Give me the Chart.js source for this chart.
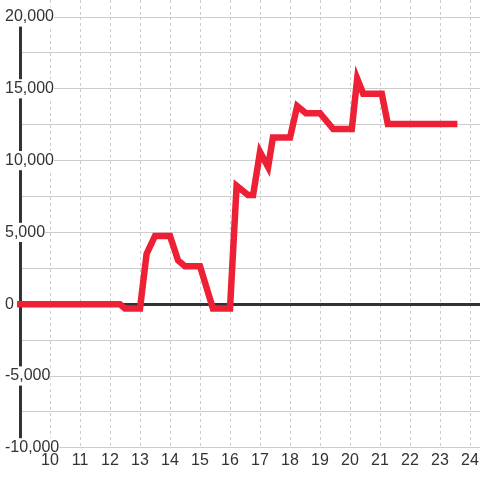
<!DOCTYPE html>
<html>
<head>
<meta charset="utf-8">
<script src="https://cdn.jsdelivr.net/npm/chart.js@4"></script>
<style>
  html, body { margin: 0; padding: 0; background: #fff; }
  #chart { display: block; }
</style>
</head>
<body>
<canvas id="chart" width="480" height="480"></canvas>
<script>
// hour of day vs value
const hours  = [8.9, 12.33, 12.5, 13.0, 13.22, 13.5, 14.0, 14.27, 14.5, 15.0, 15.43, 16.0, 16.22, 16.6, 16.77,
                17.0, 17.27, 17.43, 18.0, 18.24, 18.53, 19.0, 19.44, 20.06, 20.24, 20.44, 21.06, 21.26, 23.58];
const values = [0, 0, -300, -300, 3500, 4750, 4750, 3050, 2650, 2650, -300, -300, 8250, 7600, 7600,
                10600, 9550, 11600, 11600, 13800, 13300, 13300, 12200, 12200, 15700, 14650, 14650, 12550, 12550];

const xTicks = [10, 11, 12, 13, 14, 15, 16, 17, 18, 19, 20, 21, 22, 23, 24];
const yTicks = [-10000, -7500, -5000, -2500, 0, 2500, 5000, 7500, 10000, 12500, 15000, 17500, 20000];
const yLabelStep = 5000;

const X_MIN = 9;
const X_MAX = 24.333;

Chart.defaults.font.family = "'Liberation Sans', Arial, sans-serif";
Chart.defaults.font.size = 16;
Chart.defaults.color = '#333';

const setXTicks = (scale) => { scale.ticks = xTicks.map(v => ({ value: v })); };
const noSidePad = (scale) => { scale.paddingLeft = 0; scale.paddingRight = 0; };

new Chart(document.getElementById('chart').getContext('2d'), {
  type: 'line',
  data: {
    datasets: [{
      data: hours.map((h, i) => ({ x: h, y: values[i] })),
      borderColor: '#ed2035',
      borderWidth: 6.5,
      borderJoinStyle: 'miter',
      pointRadius: 0,
      tension: 0,
      clip: 4,
    }],
  },
  options: {
    responsive: false,
    animation: false,
    layout: { padding: { left: 5, right: 0, top: 0, bottom: 7 } },
    plugins: { legend: { display: false }, tooltip: { enabled: false } },
    scales: {
      x: {
        type: 'linear',
        position: 'bottom',
        min: X_MIN,
        max: X_MAX,
        afterBuildTicks: setXTicks,
        afterFit: noSidePad,
        ticks: { padding: 3, z: 1, callback: (v) => String(v) },
        grid: {
          color: '#ccc',
          drawTicks: false,
        },
        border: { display: false, dash: [3, 3] },
      },
      xTop: {
        type: 'linear',
        position: 'top',
        min: X_MIN,
        max: X_MAX,
        afterBuildTicks: setXTicks,
        afterFit: noSidePad,
        ticks: { display: false },
        grid: {
          drawOnChartArea: false,
          drawTicks: true,
          tickLength: 17,
          tickColor: '#ccc',
          tickBorderDash: [3, 3],
        },
        border: { display: false },
      },
      y: {
        type: 'linear',
        position: 'left',
        min: yTicks[0],
        max: yTicks[yTicks.length - 1],
        afterBuildTicks: (scale) => { scale.ticks = yTicks.map(v => ({ value: v })); },
        afterFit: (scale) => { scale.width = 15; scale.paddingTop = 0; scale.paddingBottom = 0; },
        ticks: {
          mirror: true,
          crossAlign: 'near',
          padding: -15,
          callback: (v) => (v % yLabelStep === 0 ? v.toLocaleString('en-US') : ''),
          showLabelBackdrop: (ctx) => ctx.tick.value % yLabelStep === 0,
          backdropColor: '#fff',
          backdropPadding: (ctx) => (ctx.tick.value === yTicks[0]
            ? { top: 1, bottom: -4, left: 1, right: 1 } : 1),
        },
        grid: {
          color: (ctx) => (ctx.tick && ctx.tick.value === 0 ? '#333' : '#ccc'),
          lineWidth: (ctx) => (ctx.tick && ctx.tick.value === 0 ? 3 : 1),
          drawTicks: false,
        },
        border: { display: true, color: '#333', width: 3 },
      },
    },
  },
});
</script>
</body>
</html>
